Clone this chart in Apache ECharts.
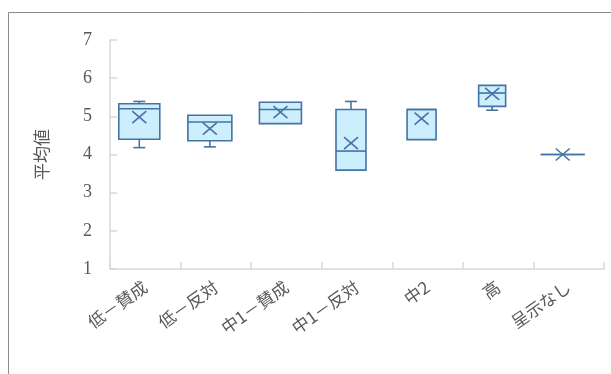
<!DOCTYPE html>
<html><head><meta charset="utf-8">
<script src="https://cdn.jsdelivr.net/npm/echarts@6/dist/echarts.min.js"></script>
<style>html,body{margin:0;padding:0;background:#fff}#c{width:611px;height:374px}</style>
</head><body><div id="c"></div>
<script>
const categories = ['低－賛成','低－反対','中1－賛成','中1－反対','中2','高','呈示なし'];
const minVals    = [4.18, 4.20, 4.81, 3.59, 4.39, 5.16, 4.0];
const q1Vals     = [4.40, 4.36, 4.81, 3.59, 4.39, 5.26, 4.0];
const medianVals = [5.20, 4.85, 5.18, 4.09, 5.18, 5.61, 4.0];
const q3Vals     = [5.33, 5.03, 5.37, 5.18, 5.18, 5.81, 4.0];
const maxVals    = [5.39, 5.03, 5.37, 5.39, 5.18, 5.81, 4.0];
const meanVals   = [4.98, 4.68, 5.11, 4.30, 4.94, 5.59, 4.0];
const yTicks = [1,2,3,4,5,6,7];

const data = categories.map((c,i)=>[i,minVals[i],q1Vals[i],medianVals[i],q3Vals[i],maxVals[i],meanVals[i]]);

// style
const STROKE = '#4473a6', FILL = '#cdeefc';
const boxWidths = [41,44,42,30,29,27,44];
const SHIFT = -6, CAP = 12, XS = 6;

function renderItem(params, api){
  const i = api.value(0);
  const cx = api.coord([i, 1])[0] + SHIFT;
  const y = v => api.coord([i, v])[1];
  const w = boxWidths[i];
  const mn=api.value(1), q1=api.value(2), md=api.value(3), q3=api.value(4), mx=api.value(5), mean=api.value(6);
  const st = {stroke: STROKE, lineWidth: 1.6, fill: null};
  const ch = [];
  if (mx > q3) {
    ch.push({type:'line', shape:{x1:cx,y1:y(q3),x2:cx,y2:y(mx)}, style:st});
    ch.push({type:'line', shape:{x1:cx-CAP/2,y1:y(mx),x2:cx+CAP/2,y2:y(mx)}, style:st});
  }
  if (mn < q1) {
    ch.push({type:'line', shape:{x1:cx,y1:y(q1),x2:cx,y2:y(mn)}, style:st});
    ch.push({type:'line', shape:{x1:cx-CAP/2,y1:y(mn),x2:cx+CAP/2,y2:y(mn)}, style:st});
  }
  ch.push({type:'rect', shape:{x:cx-w/2, y:y(q3), width:w, height:y(q1)-y(q3)},
           style:{stroke:STROKE, lineWidth:1.6, fill:FILL}});
  ch.push({type:'line', shape:{x1:cx-w/2,y1:y(md),x2:cx+w/2,y2:y(md)}, style:st});
  const my = y(mean);
  ch.push({type:'line', shape:{x1:cx-XS-1,y1:my-XS,x2:cx+XS+1,y2:my+XS}, style:{stroke:STROKE,lineWidth:1.6}});
  ch.push({type:'line', shape:{x1:cx-XS-1,y1:my+XS,x2:cx+XS+1,y2:my-XS}, style:{stroke:STROKE,lineWidth:1.6}});
  return {type:'group', children: ch};
}

const chart = echarts.init(document.getElementById('c'), null, {renderer:'canvas'});
chart.setOption({
  animation:false,
  graphic:[{type:'rect', shape:{x:8.5,y:12.5,width:700,height:500}, style:{fill:null, stroke:'#8c8c8c', lineWidth:1}, silent:true}],
  grid:{left:110, right:7, top:40, bottom:105},
  xAxis:{type:'category', data:categories, boundaryGap:true,
    axisLine:{lineStyle:{color:'#d9d9d9', width:1.5}},
    axisTick:{show:true, inside:true, length:7, interval:0, lineStyle:{color:'#d9d9d9', width:1.5}},
    axisLabel:{interval:0, rotate:35, color:'#595959', fontSize:17, fontFamily:'Noto Sans CJK JP', margin:16}},
  yAxis:{type:'value', min:yTicks[0], max:yTicks[yTicks.length-1], interval:1,
    name:'平均値', nameLocation:'middle', nameGap:60, nameRotate:90,
    nameTextStyle:{color:'#595959', fontSize:17, fontFamily:'Noto Sans CJK JP'},
    axisLine:{show:true, lineStyle:{color:'#d9d9d9', width:1.5}},
    axisTick:{show:true, inside:true, length:7, lineStyle:{color:'#d9d9d9', width:1.5}},
    splitLine:{show:false},
    axisLabel:{color:'#595959', fontSize:18, fontFamily:'Liberation Serif', margin:18}},
  series:[{type:'custom', renderItem, data, encode:{x:0, y:[1,2,3,4,5,6]}}]
});
</script></body></html>
